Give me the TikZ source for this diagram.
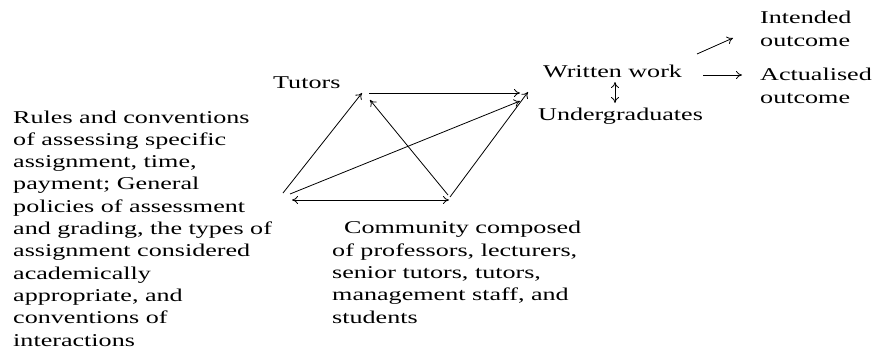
\documentclass[tikz,border=0pt]{standalone}
\usepackage{fontspec}
\setmainfont{Liberation Serif}[FakeStretch=1.45]
\usetikzlibrary{arrows.meta}

\begin{document}
\begin{tikzpicture}[x=1pt, y=-1pt, >={To[length=6pt, width=8pt]},
	txt/.style={inner sep=0pt, anchor=base west, align=left,
		font=\fontsize{18}{22.3}\selectfont},
	link/.style={line width=0.8pt, ->}]
	
	\useasboundingbox (0,0) rectangle (875,351);
	
	% Text blocks (placed at the baseline of their last line)
	\node[txt] (rules) at (13,346) {Rules and conventions\\
		of assessing specific\\
		assignment, time,\\
		payment; General\\
		policies of assessment\\
		and grading, the types of\\
		assignment considered\\
		academically\\
		appropriate, and\\
		conventions of\\
		interactions};
	\node[txt] (tutors) at (273,88) {Tutors};
	\node[txt] (written) at (543,77) {Written work};
	\node[txt] (undergrad) at (538,120) {Undergraduates};
	\node[txt] (community) at (332,323) {\hspace{12pt}Community composed\\
		of professors, lecturers,\\
		senior tutors, tutors,\\
		management staff, and\\
		students};
	\node[txt] (intended) at (760,46) {Intended\\outcome};
	\node[txt] (actual) at (760,103) {Actualised\\outcome};
	
	% --- Corners of the triangle ---
	\coordinate (rulA) at (283,193);
	\coordinate (rulB) at (290,194);
	\coordinate (rulC) at (292,200);
	\coordinate (tutA) at (362,93);
	\coordinate (tutB) at (370,100);
	\coordinate (tutC) at (369,93);
	\coordinate (wriA) at (528,92);
	\coordinate (wriB) at (520,101);
	\coordinate (wriC) at (520,93);
	\coordinate (comA) at (448,195);
	\coordinate (comB) at (450,197);
	\coordinate (comC) at (449,200);
	
	\draw[link] (rulA) -- (tutA);
	\draw[link] (rulB) -- (wriB);
	\draw[link, <->] (rulC) -- (comC);
	\draw[link] (comA) -- (tutB);
	\draw[link] (comB) -- (wriA);
	\draw[link] (tutC) -- (wriC);
	
	% --- Outcomes ---
	\coordinate (wriD) at (615,82);
	\coordinate (undA) at (615,103);
	\coordinate (wriE) at (703,75);
	\coordinate (actA) at (742,75);
	\coordinate (wriF) at (697,54);
	\coordinate (intA) at (733,38);
	
	\draw[link, <->] (wriD) -- (undA);
	\draw[link] (wriE) -- (actA);
	\draw[link] (wriF) -- (intA);
	
\end{tikzpicture}
\end{document}
